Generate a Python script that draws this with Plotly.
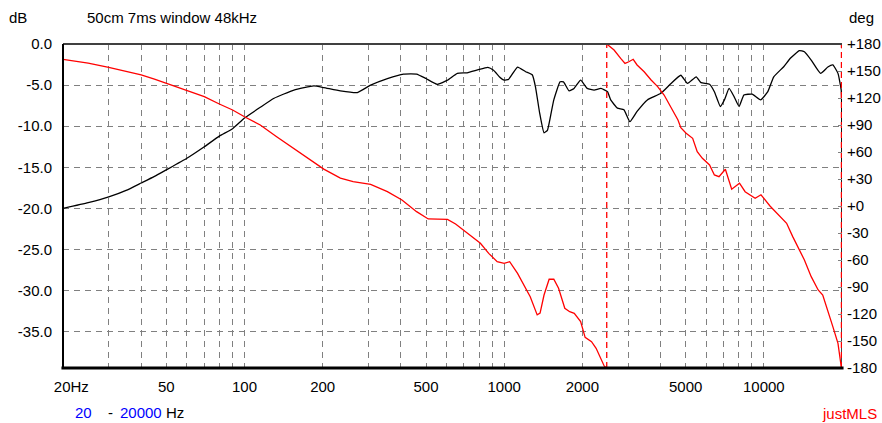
import numpy as np
import plotly.graph_objects as go

# ---- data ----
mag_freq = [20, 25, 30, 35, 40, 45, 50, 60, 70, 80, 90, 100, 115, 130, 155, 185, 202, 234, 272,
            306, 355, 410, 460, 500, 552, 605, 660, 720, 790, 865, 910, 960, 1000, 1040, 1126,
            1210, 1284, 1320, 1370, 1424, 1467, 1508, 1553, 1642, 1692, 1778, 1858, 1970, 2090,
            2220, 2358, 2500, 2572, 2730, 2892, 3048, 3250, 3560, 4012, 4390, 4790, 5080, 5490,
            5730, 6180, 6450, 6800, 7050, 7350, 7680, 8030, 8380, 9020, 9720, 10360, 10920,
            11930, 12650, 13700, 14330, 15220, 16540, 17640, 18440, 19300, 19860, 19950, 20000]
mag_db = [-20.0, -19.3, -18.6, -17.8, -16.9, -16.1, -15.3, -13.9, -12.5, -11.2, -10.3, -9.0,
          -7.7, -6.6, -5.6, -5.1, -5.3, -5.7, -5.9, -5.0, -4.2, -3.65, -3.65, -4.2, -4.9, -4.4,
          -3.57, -3.5, -3.16, -2.85, -3.2, -4.0, -4.4, -4.3, -2.8, -3.37, -3.77, -5.2, -8.4,
          -10.8, -10.5, -8.8, -6.8, -4.6, -4.6, -5.7, -5.4, -4.4, -5.4, -5.6, -5.4, -5.8, -6.8,
          -7.8, -8.0, -9.45, -8.2, -6.8, -6.0, -4.8, -3.8, -4.8, -4.0, -4.7, -4.9, -5.8, -7.6,
          -6.8, -5.4, -6.4, -7.6, -6.2, -6.1, -6.8, -5.8, -4.0, -2.76, -1.74, -0.81, -0.94,
          -1.95, -3.57, -2.8, -2.55, -3.57, -5.6, -7.6, -45.0]

phase_freq = [20, 25, 30, 35, 40, 45, 50, 60, 70, 80, 90, 100, 115, 133, 155, 179, 202, 234, 262,
              306, 355, 404, 460, 510, 605, 650, 720, 810, 872, 940, 1000, 1050, 1126, 1210,
              1260, 1340, 1375, 1424, 1490, 1553, 1620, 1712, 1788, 1862, 1970, 2050, 2170, 2260,
              2360, 2430, 2510, 2650, 2810, 2920, 3020, 3140, 3250, 3460, 3680, 3900, 4130, 4390,
              4670, 4790, 5020, 5320, 5540, 5800, 6180, 6450, 6720, 7110, 7520, 8060, 8470, 9260,
              9750, 10560, 12240, 12920, 14330, 15220, 16190, 16860, 17640, 18440, 19300, 19860,
              20000]
phase_deg = [163, 158.8, 154, 149.8, 145.6, 141, 136.3, 128.9, 121.5, 113.3, 106.7, 99.2, 90, 77,
             64, 51, 41, 31, 27, 24, 16, 6.7, -6.3, -14.4, -14.8, -20, -30.3, -41.4, -52.6, -61.9,
             -63.7, -61.9, -74.8, -91.4, -100.8, -121, -119, -98.9, -81.4, -81.4, -91.4, -113.6,
             -117.4, -119.2, -128.5, -145.9, -150.8, -158.1, -169.2, -178, 179, 173.3, 164, 158.5,
             160.3, 163, 156.7, 149.2, 140, 132.6, 123.3, 110.3, 95.6, 87, 80.8, 75.2, 60.4, 53,
             45.6, 34.5, 32.6, 40.8, 18.6, 25.3, 15.9, 8.6, 12.5, 0, -19.2, -34, -60, -78.5,
             -93.3, -98.9, -115.5, -134, -152.6, -178, 175]

x_grid = [20, 30, 40, 50, 60, 70, 80, 90, 100, 200, 300, 400, 500, 600, 700, 800, 900,
          1000, 2000, 3000, 4000, 5000, 6000, 7000, 8000, 9000, 10000]
x_labels = {20: "\u00a0\u00a0\u00a0\u00a020Hz", 50: "50", 100: "100", 200: "200", 500: "500",
            1000: "1000", 2000: "2000", 5000: "5000", 10000: "10000"}
db_ticks = [0, -5, -10, -15, -20, -25, -30, -35]
db_labels = ["0.0", "-5.0", "-10.0", "-15.0", "-20.0", "-25.0", "-30.0", "-35.0"]
deg_ticks = [180, 150, 120, 90, 60, 30, 0, -30, -60, -90, -120, -150, -180]
deg_labels = ["+180", "+150", "+120", "+90", "+60", "+30", "+0", "-30", "-60", "-90", "-120",
              "-150", "-180"]

W, H = 882, 423
L, R, T, B = 63, 842, 44, 368
FONT = "Liberation Sans, Arial, sans-serif"


def split_wrapped(f, p):
    xs, ys, wraps = [], [], []
    for i in range(len(f)):
        if i > 0:
            d = p[i] - p[i - 1]
            if abs(d) > 180:
                pn = p[i] - 360 * np.sign(d)
                edge = -180 if d > 0 else 180
                t = (edge - p[i - 1]) / (pn - p[i - 1])
                lf = np.log10(f[i - 1]) + t * (np.log10(f[i]) - np.log10(f[i - 1]))
                fc = 10 ** lf
                xs += [fc, None, fc]
                ys += [edge, None, -edge]
                wraps.append(fc)
        xs.append(f[i])
        ys.append(p[i])
    return xs, ys, wraps


px_, py_, wraps = split_wrapped(phase_freq, phase_deg)

fig = go.Figure()
fig.add_trace(go.Scatter(x=mag_freq, y=mag_db, mode="lines",
                         line=dict(color="black", width=1.3, shape="spline", smoothing=0.4),
                         yaxis="y", hoverinfo="skip"))
fig.add_trace(go.Scatter(x=px_, y=py_, mode="lines", line=dict(color="#ff0000", width=1.3),
                         yaxis="y2", hoverinfo="skip", connectgaps=False))
for fc in wraps:
    fig.add_trace(go.Scatter(x=[fc, fc], y=[-180, 180], mode="lines",
                             line=dict(color="#ff0000", width=1.3, dash="6px,4px"),
                             yaxis="y2", hoverinfo="skip"))


def pxx(x):
    return (x - L) / (R - L)


def pxy(y):
    return (B - y) / (B - T)


fig.update_layout(
    width=W, height=H, showlegend=False,
    margin=dict(l=L, r=W - R, t=T, b=H - B, pad=0, autoexpand=False),
    paper_bgcolor="white", plot_bgcolor="white",
    font=dict(family=FONT, size=15, color="black"),
    xaxis=dict(type="log", range=[np.log10(20), np.log10(20000)], automargin=False,
               tickvals=x_grid, ticktext=[x_labels.get(v, "") for v in x_grid],
               showgrid=True, gridcolor="#808080", gridwidth=1, griddash="6px,5px",
               ticks="", showline=False, zeroline=False, tickangle=0, ticklabelstandoff=8,
               tickfont=dict(family=FONT, size=15, color="black")),
    yaxis=dict(range=[-39.4, 0], tickvals=db_ticks, ticktext=db_labels, automargin=False,
               showgrid=True, gridcolor="#808080", gridwidth=1, griddash="6px,5px",
               ticks="", showline=False, zeroline=False, ticklabelstandoff=10,
               tickfont=dict(family=FONT, size=15, color="black")),
    yaxis2=dict(range=[-180, 180], overlaying="y", side="right", tickvals=deg_ticks,
                ticktext=deg_labels, showgrid=False, zeroline=False, showline=False,
                automargin=False,
                ticks="inside", ticklen=4, tickcolor="#808080", ticklabelstandoff=4,
                tickfont=dict(family=FONT, size=15, color="black")),
)

fig.add_shape(type="line", xref="paper", yref="paper", x0=0, x1=1, y0=1, y1=1,
              line=dict(color="#404040", width=2), layer="above")
fig.add_shape(type="line", xref="paper", yref="paper", x0=0, x1=0, y0=0, y1=1,
              line=dict(color="black", width=2), layer="above")
fig.add_shape(type="line", xref="paper", yref="paper", x0=-0.002, x1=1.002, y0=0, y1=0,
              line=dict(color="black", width=3), layer="above")


def ann(text, x, y, color="black", anchor="left"):
    fig.add_annotation(text=text, xref="paper", yref="paper", x=pxx(x), y=pxy(y),
                       xanchor=anchor, yanchor="middle", showarrow=False,
                       font=dict(family=FONT, size=15, color=color))


ann("dB", 7, 17.5)
ann("50cm 7ms window 48kHz", 85, 17.5)
ann("deg", 847, 17.5)
ann("20", 73, 412, color="#0000ff")
ann("-", 106, 412)
ann("20000", 118, 412, color="#0000ff")
ann("Hz", 164, 412)
ann("justMLS", 820, 413, color="#ff0000")

fig.write_html("out.html")
